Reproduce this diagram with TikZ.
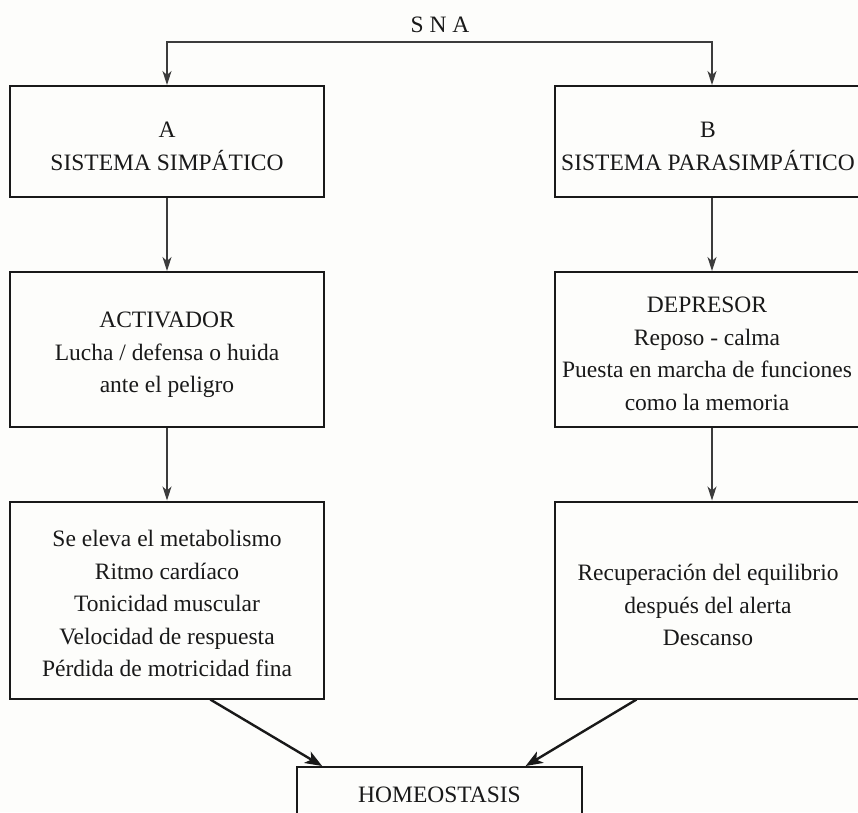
\documentclass[tikz,border=0pt]{standalone}
\usepackage{fontspec}
\setmainfont{Liberation Serif}
\usetikzlibrary{arrows.meta,calc}
\definecolor{ink}{RGB}{25,25,25}
\definecolor{paper}{RGB}{253,253,251}
\begin{document}
\begin{tikzpicture}[x=1pt,y=-1pt,
  boxy/.style={draw=ink, line width=2pt, minimum width=314pt, inner sep=0pt},
  txt/.style={text=ink, align=center, inner sep=0pt, font=\fontsize{23.5}{32.5}\selectfont},
  conn/.style={draw=ink!85, line width=1.2pt, -{Stealth[length=14pt,width=9pt,inset=4pt]}},
  diag/.style={draw=ink, line width=2.4pt, -{Stealth[length=17pt,width=13pt,inset=4.5pt]}}]
\fill[paper] (0,0) rectangle (858,812);
\useasboundingbox (0,0) rectangle (858,812);
\clip (0,0) rectangle (858,812);

% title
\node[txt] (sna) at (440,25) {S N A};
\coordinate (bar) at (440,42);

% boxes
\node[boxy, minimum height=111pt] (A) at (167,141.5) {};
\node[boxy, minimum height=111pt] (B) at (712,141.5) {};
\node[boxy, minimum height=155pt] (A2) at (167,349.5) {};
\node[boxy, minimum height=155pt] (B2) at (712,349.5) {};
\node[boxy, minimum height=197pt] (A3) at (167,600) {};
\node[boxy, minimum height=197pt] (B3) at (712,600) {};
\node[boxy, minimum width=285pt, minimum height=56pt] (H) at (439.5,795) {};

% texts
\node[txt] (tA) at (167,146.5) {A\\SISTEMA SIMPÁTICO};
\node[txt] (tB) at (708,146.5) {B\\SISTEMA PARASIMPÁTICO};
\node[txt] (tA2) at (167,355) {ACTIVADOR\\Lucha / defensa o huida\\ante el peligro};
\node[txt] (tB2) at (707,354) {DEPRESOR\\Reposo - calma\\Puesta en marcha de funciones\\como la memoria};
\node[txt] (tA3) at (167,603.5) {Se eleva el metabolismo\\Ritmo cardíaco\\Tonicidad muscular\\Velocidad de respuesta\\Pérdida de motricidad fina};
\node[txt] (tB3) at (708,605) {Recuperación del equilibrio\\después del alerta\\Descanso};
\node[txt] (tH) at (439.5,795) {HOMEOSTASIS};

% connectors
\draw[conn] (bar) -| (A.north);
\draw[conn] (bar) -| (B.north);
\draw[conn] (A.south) -- (A2.north);
\draw[conn] (B.south) -- (B2.north);
\draw[conn] (A2.south) -- (A3.north);
\draw[conn] (B2.south) -- (B3.north);
\draw[diag] ($(A3.south west)!0.637!(A3.south east)$) -- ($(H.north west)!0.091!(H.north east)$);
\draw[diag] ($(B3.south west)!0.261!(B3.south east)$) -- ($(H.north west)!0.80!(H.north east)$);
\end{tikzpicture}
\end{document}
